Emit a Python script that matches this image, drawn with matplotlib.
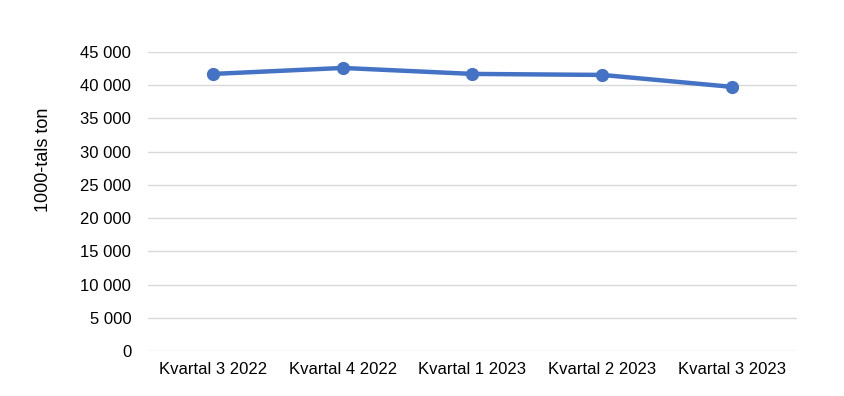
import matplotlib.pyplot as plt
from matplotlib.ticker import FuncFormatter

plt.rcParams['font.family'] = ['Liberation Sans', 'DejaVu Sans']

# data
kvartal = ['Kvartal 3 2022', 'Kvartal 4 2022', 'Kvartal 1 2023', 'Kvartal 2 2023', 'Kvartal 3 2023']
ton = [41700, 42600, 41700, 41550, 39750]
yticks = list(range(0, 45001, 5000))

fig = plt.figure(figsize=(8.45, 3.96), dpi=100)
ax = fig.add_axes([148 / 845, 1 - 351 / 396, (797 - 148) / 845, (351 - 52) / 396])

x = range(len(kvartal))
ax.plot(x, ton, color='#4472C4', linewidth=3.2, marker='o', markersize=8.5, zorder=3)

ax.set_xlim(-0.5, len(kvartal) - 0.5)
ax.set_ylim(0, 45000)
ax.set_yticks(yticks)
ax.yaxis.set_major_formatter(FuncFormatter(lambda v, p: f'{int(v):,}'.replace(',', ' ')))
ax.set_xticks(list(x))
ax.set_xticklabels(kvartal)

ax.grid(axis='y', color='#d9d9d9', linewidth=1)
ax.set_axisbelow(True)
for s in ax.spines.values():
    s.set_visible(False)
ax.tick_params(length=0, labelsize=12, colors='#000000')
ax.tick_params(axis='y', pad=12)
ax.tick_params(axis='x', pad=8)

# y-etikett sitter lite ovanför mitten i originalet
ax.set_ylabel('1000-tals ton', fontsize=13)
ax.yaxis.set_label_coords(-0.148, 0.64)

fig.savefig('out.png', dpi=100)
